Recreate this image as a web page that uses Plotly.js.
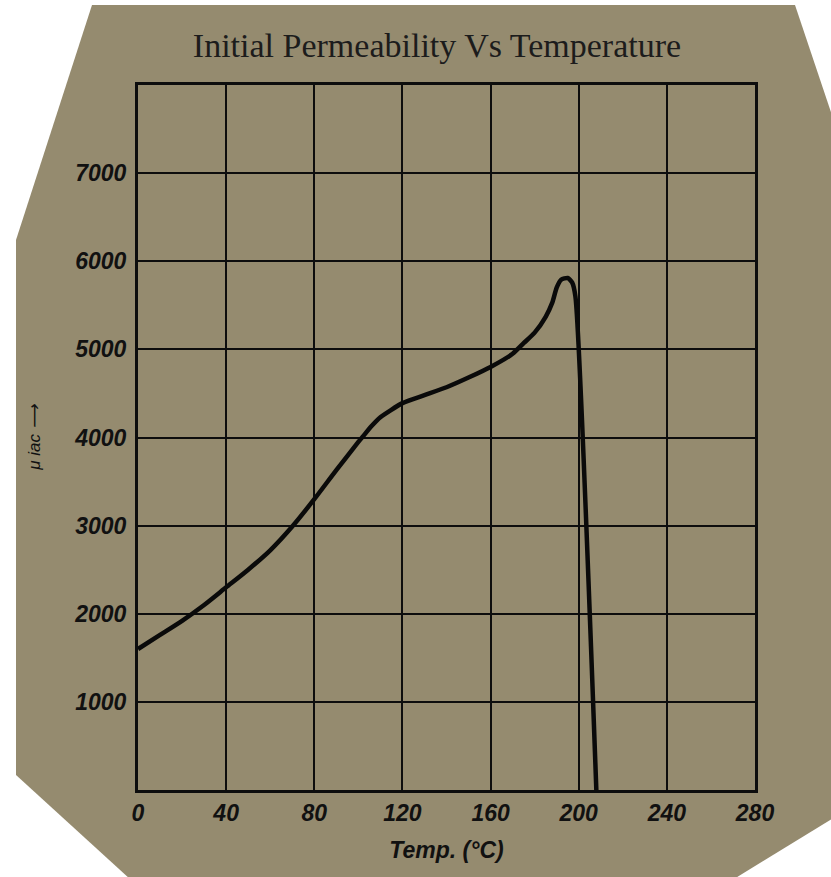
<!DOCTYPE html>
<html>
<head>
<meta charset="utf-8">
<script src="https://cdn.plot.ly/plotly-3.0.1.min.js"></script>
<style>html,body{margin:0;padding:0;background:#fff;}#chart{width:831px;height:877px;}</style>
</head>
<body>
<div id="chart"></div>
<script>
// ---- data ----
const temperature = [0, 10, 20, 30, 40, 50, 60, 70, 80, 90, 100, 102, 106, 110, 120, 130, 140, 150, 160, 170, 175, 180, 185, 188, 190, 192, 195, 197, 198.5, 208];
const permeability = [1600, 1760, 1920, 2100, 2300, 2500, 2720, 2990, 3300, 3630, 3950, 4010, 4130, 4230, 4390, 4480, 4570, 4680, 4800, 4950, 5070, 5190, 5370, 5530, 5700, 5790, 5810, 5760, 5600, 0];
const xTickVals = [0, 40, 80, 120, 160, 200, 240, 280];
const yTickVals = [1000, 2000, 3000, 4000, 5000, 6000, 7000];
const titleText = 'Initial Permeability Vs Temperature';
const xTitle = 'Temp. (°C)';
const yTitle = 'μ iac ⟶';

// ---- layout geometry (pixels) ----
const L = 138, R = 755, T = 85, B = 790;
const px = x => (x - L) / (R - L);
const py = y => (B - y) / (B - T);
const poly = [[92,5],[795,5],[845,154],[845,811],[716,890],[142,890],[16,775],[16,240]];
const pathStr = 'M ' + poly.map(p => px(p[0]) + ',' + py(p[1])).join(' L ') + ' Z';

const tickFont = {family: '"Liberation Sans", Arial, sans-serif', size: 23, color: '#111', weight: 'bold', style: 'italic'};

const trace = {
  x: temperature, y: permeability, type: 'scatter', mode: 'lines',
  line: {color: '#0a0a0a', width: 4.5, shape: 'spline', smoothing: 0.6},
  hoverinfo: 'skip'
};

const layout = {
  width: 831, height: 877,
  margin: {l: L, r: 831 - R, t: T, b: 877 - B, pad: 0},
  paper_bgcolor: '#ffffff',
  plot_bgcolor: 'rgba(0,0,0,0)',
  showlegend: false,
  title: {text: titleText, x: 437/831, xref: 'container', xanchor: 'center', y: 1 - 45/877, yref: 'container', yanchor: 'middle',
          font: {family: '"Liberation Serif", "Times New Roman", serif', size: 34, color: '#1c1c1c'}},
  xaxis: {range: [0, 280], tickvals: xTickVals, ticktext: xTickVals.map(String), showgrid: true, gridcolor: '#0d0d0d', gridwidth: 2,
          zeroline: false, showline: true, linecolor: '#0d0d0d', linewidth: 3, mirror: true, ticks: '', ticklabelstandoff: 0,
          tickfont: tickFont, fixedrange: true,
          title: {text: xTitle, standoff: 18, font: {family: '"Liberation Sans", Arial, sans-serif', size: 23, color: '#111', weight: 'bold', style: 'italic'}}},
  yaxis: {range: [0, 8000], tickvals: yTickVals, ticktext: yTickVals.map(String), showgrid: true, gridcolor: '#0d0d0d', gridwidth: 2,
          zeroline: false, showline: true, linecolor: '#0d0d0d', linewidth: 3, mirror: true, ticks: '', ticklabelstandoff: 4,
          tickfont: tickFont, fixedrange: true,
          title: {text: yTitle, standoff: 30, font: {family: '"Liberation Sans", Arial, sans-serif', size: 17, color: '#111', style: 'italic'}}},
  shapes: [
    {type: 'path', xref: 'paper', yref: 'paper', path: pathStr, fillcolor: '#958b6f', line: {width: 0}, layer: 'below'}
  ]
};

Plotly.newPlot('chart', [trace], layout, {displayModeBar: false, staticPlot: true});
</script>
</body>
</html>
